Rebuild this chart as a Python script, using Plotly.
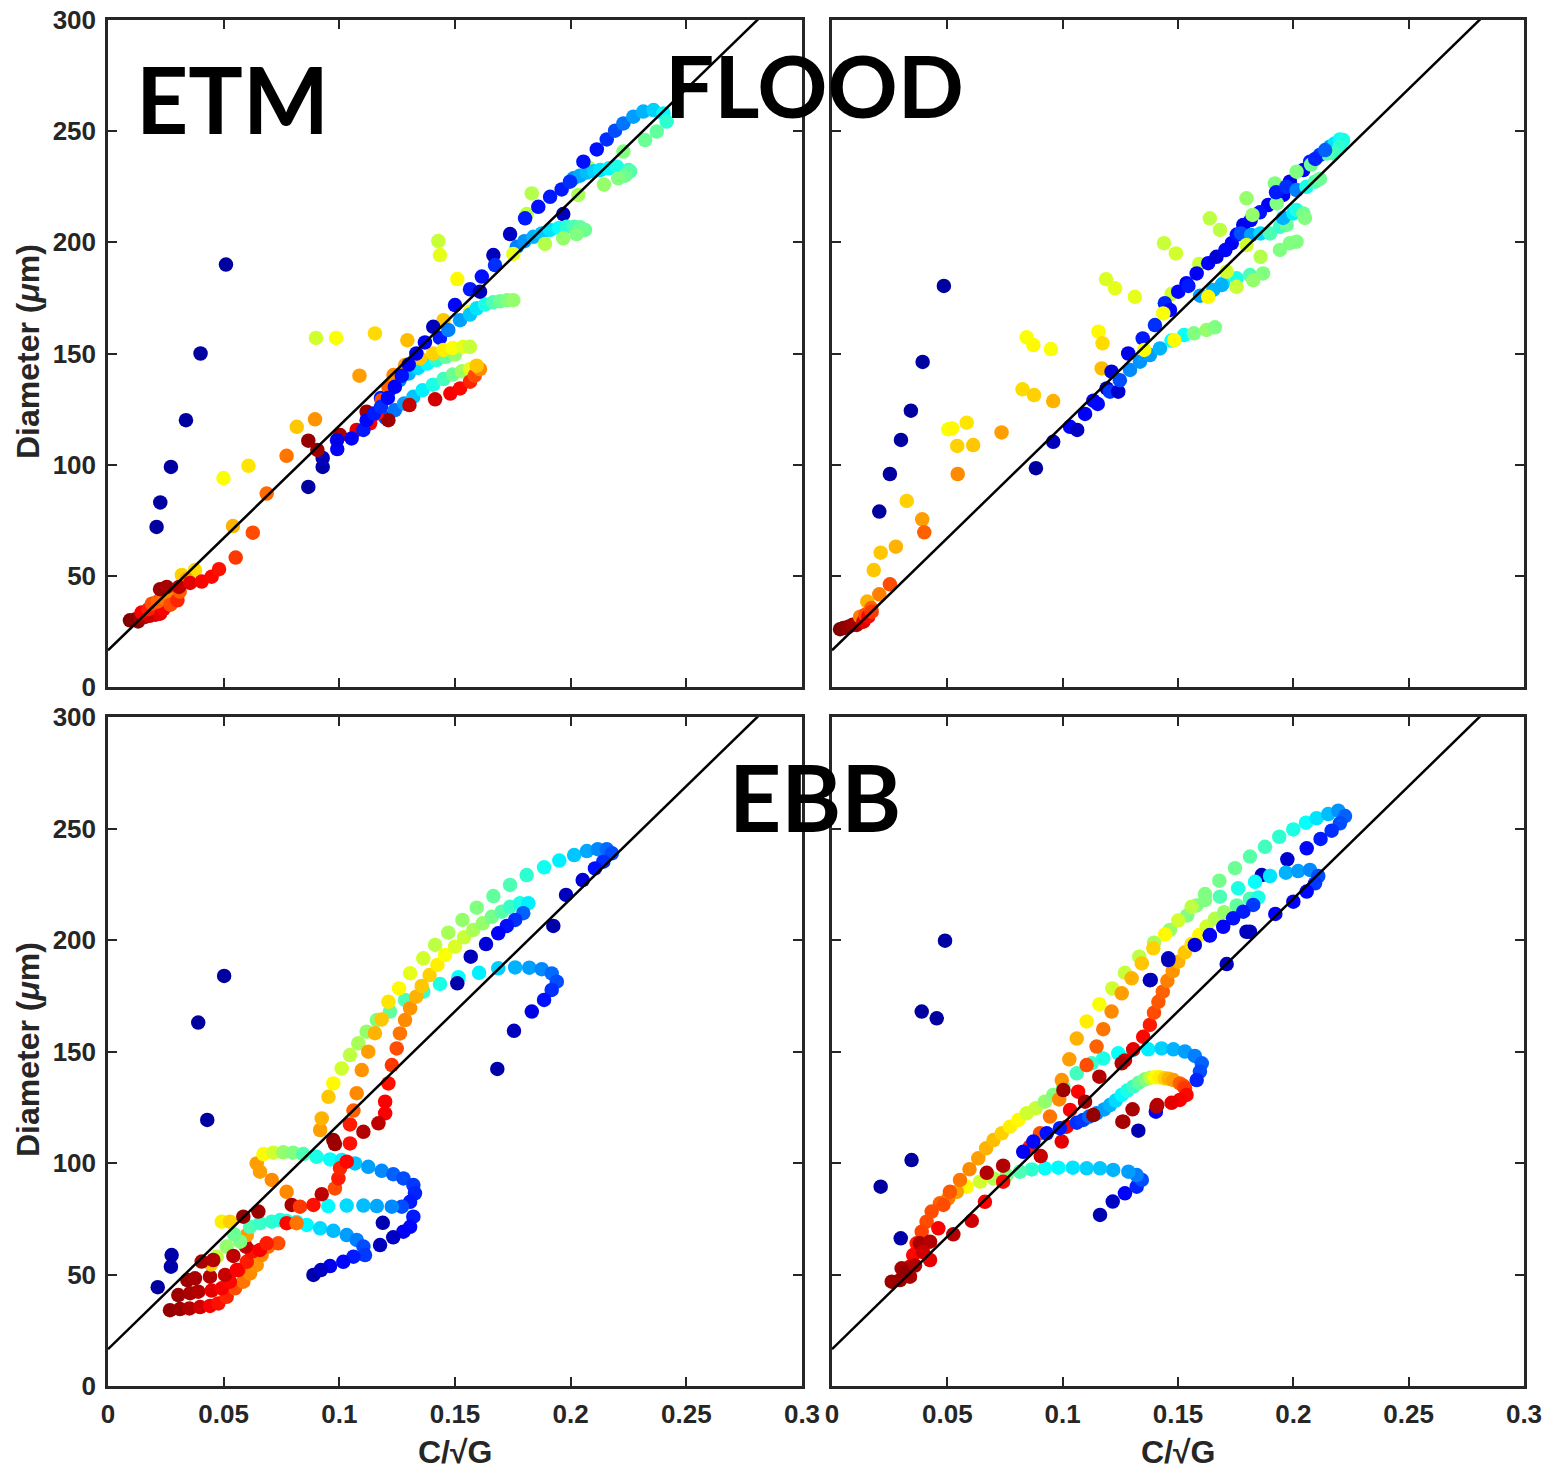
import plotly.graph_objects as go

# ---------------------------------------------------------------
# Floc diameter versus C/sqrt(G); each point is (C/sqrt(G), D [um], colour value 0..1)
# ---------------------------------------------------------------

# Fitted relation drawn in every panel: D = fit_intercept + fit_slope * C/sqrt(G)
fit_intercept = 16.5
fit_slope = 1010.0

x_ticks = [0, 0.05, 0.1, 0.15, 0.2, 0.25, 0.3]
x_tick_text = ["0", "0.05", "0.1", "0.15", "0.2", "0.25", "0.3"]
y_ticks = [0, 50, 100, 150, 200, 250, 300]
y_tick_text = ["0", "50", "100", "150", "200", "250", "300"]

panel_labels = ["ETM", "FLOOD", "EBB"]
x_title = "C/√G"
y_title = "Diameter (<i>μ</i>m)"

# ---------------- ETM (top left) ----------------
etm_scatter = [
    (0.021, 72, 0.02), (0.0226, 83, 0.02), (0.0272, 99, 0.02), (0.0337, 120, 0.02),
    (0.040, 150, 0.02), (0.051, 190, 0.02),
    (0.0499, 94, 0.62), (0.0607, 99.5, 0.65), (0.054, 72.4, 0.7), (0.0626, 69.4, 0.8),
    (0.0686, 87, 0.77), (0.0899, 157, 0.58), (0.0986, 157, 0.62), (0.1154, 159, 0.66),
    (0.1294, 156, 0.69), (0.1087, 140, 0.72), (0.0816, 117, 0.68), (0.0895, 120.4, 0.73),
    (0.0772, 104, 0.76), (0.1428, 200.6, 0.57), (0.1435, 194.3, 0.6), (0.151, 183.5, 0.63),
    (0.145, 165, 0.68), (0.1565, 168.8, 0.62), (0.1832, 222, 0.55), (0.181, 212.7, 0.56),
    (0.2033, 221.3, 0.54), (0.2077, 233.7, 0.55),
    (0.0866, 90, 0.02), (0.0928, 99, 0.03), (0.0928, 103, 0.05), (0.1968, 212.7, 0.05),
]
etm_low = [
    (0.0095, 30, 1.0), (0.012, 30.5, 0.98), (0.013, 29.5, 0.99), (0.014, 31, 0.97),
    (0.016, 31.5, 0.95), (0.018, 32, 0.93), (0.0205, 32.5, 0.92), (0.0225, 33, 0.9),
    (0.024, 35, 0.88), (0.0145, 33.5, 0.88), (0.0175, 35, 0.85), (0.019, 37.5, 0.8),
    (0.0215, 38.5, 0.78), (0.0245, 40, 0.76), (0.0275, 40.6, 0.74), (0.027, 37, 0.8),
    (0.03, 39, 0.84), (0.031, 42.9, 0.78), (0.0319, 50.4, 0.67), (0.0376, 52.6, 0.66),
    (0.034, 48.5, 0.72), (0.0225, 44, 0.97), (0.0254, 45, 0.96), (0.0307, 45, 0.94),
    (0.0355, 46.8, 0.9), (0.0405, 47.4, 0.88), (0.0448, 49.6, 0.87), (0.048, 53, 0.86),
    (0.0552, 58.2, 0.82),
]
etm_arcs = [
    (0.118, 130, 0.15), (0.122, 134, 0.2), (0.126, 138, 0.25), (0.13, 141, 0.3),
    (0.134, 143.5, 0.34), (0.138, 145.5, 0.37), (0.142, 147, 0.42), (0.146, 148.5, 0.47),
    (0.15, 149.5, 0.52),
    (0.12, 121, 0.2), (0.124, 124.5, 0.24), (0.128, 127.5, 0.28), (0.132, 130.5, 0.32),
    (0.136, 133.5, 0.36), (0.1405, 136, 0.4), (0.145, 138.5, 0.44), (0.149, 140.5, 0.48),
    (0.153, 142, 0.53), (0.1565, 143, 0.6),
    (0.1435, 157, 0.15), (0.1471, 160.6, 0.25), (0.1522, 165, 0.28), (0.1565, 167.5, 0.32),
    (0.1594, 170.3, 0.35), (0.163, 172, 0.4), (0.1665, 173, 0.45), (0.1695, 173.5, 0.48),
    (0.1725, 174, 0.5), (0.1752, 174, 0.52),
    (0.1767, 198, 0.25), (0.18, 200.5, 0.27), (0.1839, 202.5, 0.3), (0.1875, 204, 0.32),
    (0.1911, 205.6, 0.35), (0.195, 206.5, 0.38), (0.1983, 207, 0.42), (0.2015, 207, 0.45),
    (0.2041, 206.8, 0.47), (0.2062, 205.6, 0.48), (0.2026, 203.7, 0.5), (0.1968, 201.8, 0.52),
    (0.1889, 199.3, 0.55), (0.1752, 194.8, 0.6),
    (0.2012, 228.8, 0.27), (0.204, 230, 0.29), (0.207, 231.4, 0.31), (0.21, 232, 0.33),
    (0.2127, 232.5, 0.35), (0.2165, 233.3, 0.37), (0.22, 234, 0.4), (0.225, 232.5, 0.43),
    (0.2257, 231.9, 0.46), (0.2235, 230, 0.48), (0.2206, 228.8, 0.5), (0.2144, 226, 0.52),
]
etm_mid = [
    (0.0866, 110.8, 0.98), (0.0905, 106.6, 0.97), (0.1003, 113.3, 0.96), (0.1118, 123.8, 0.97),
    (0.1212, 120, 0.97), (0.1303, 126.8, 0.93),
    (0.1075, 115.6, 0.9), (0.1133, 118.6, 0.88), (0.1162, 123, 0.86), (0.1183, 129, 0.8),
    (0.1212, 135, 0.78), (0.1234, 140.3, 0.74), (0.1284, 144.8, 0.72), (0.1349, 147.8, 0.68),
    (0.1406, 150, 0.67), (0.145, 151.6, 0.64), (0.149, 152.5, 0.62), (0.1535, 153, 0.6),
    (0.1565, 153, 0.57),
    (0.1414, 129.4, 0.92), (0.148, 132, 0.88), (0.1522, 134.3, 0.87), (0.1565, 137.3, 0.84),
    (0.1585, 140, 0.8), (0.1608, 143, 0.74), (0.1594, 144.5, 0.68),
]
etm_blue = [
    (0.0991, 107, 0.12), (0.099, 111, 0.1), (0.1053, 111.8, 0.12), (0.1104, 115.6, 0.15),
    (0.1118, 120, 0.13), (0.115, 123, 0.15), (0.118, 126, 0.17), (0.121, 130, 0.13),
    (0.124, 135, 0.12), (0.127, 140, 0.14), (0.13, 145, 0.12), (0.1333, 150, 0.1),
    (0.137, 155, 0.12), (0.1406, 162, 0.05), (0.150, 171.8, 0.13), (0.1565, 178.9, 0.15),
    (0.1608, 177.8, 0.05), (0.1616, 184.6, 0.14), (0.1666, 194.3, 0.05), (0.1673, 189.8, 0.17),
    (0.1738, 203.7, 0.06), (0.1803, 210.8, 0.15), (0.186, 216, 0.14), (0.1911, 220.5, 0.15),
    (0.1961, 223.8, 0.15), (0.1997, 227.3, 0.17), (0.2055, 236.3, 0.14), (0.2113, 241.8, 0.14),
    (0.2156, 246.3, 0.17), (0.2192, 250.2, 0.2), (0.2228, 253.5, 0.24), (0.2271, 256.5, 0.28),
    (0.2314, 258.8, 0.3), (0.2358, 259.5, 0.33), (0.2401, 258, 0.37), (0.2415, 254.3, 0.42),
    (0.2372, 249.8, 0.47), (0.2322, 246, 0.48), (0.2228, 240.8, 0.5),
]

# ---------------- FLOOD (top right) ----------------
flood_scatter = [
    (0.0485, 180.4, 0.02), (0.0393, 146.2, 0.02), (0.0342, 124.3, 0.02), (0.0299, 111.1, 0.02),
    (0.0251, 95.8, 0.02), (0.0205, 78.9, 0.02), (0.0884, 98.4, 0.02),
    (0.0324, 83.7, 0.67), (0.0391, 75.4, 0.72), (0.04, 69.6, 0.78), (0.0277, 63.1, 0.7),
    (0.0211, 60.4, 0.68), (0.0181, 52.6, 0.68), (0.0251, 46.2, 0.8), (0.0205, 41.7, 0.75),
    (0.0153, 38.4, 0.7),
    (0.0504, 115.9, 0.62), (0.0521, 116.3, 0.63), (0.0584, 118.9, 0.65), (0.0543, 108.4, 0.67),
    (0.0612, 108.8, 0.68), (0.0545, 95.8, 0.74), (0.0735, 114.5, 0.72),
    (0.0844, 157.3, 0.62), (0.0873, 153.8, 0.63), (0.0949, 152, 0.62), (0.0826, 133.9, 0.66),
    (0.0876, 131.3, 0.67), (0.0959, 128.6, 0.7),
    (0.1155, 159.8, 0.63), (0.1173, 154.6, 0.66), (0.1169, 143.3, 0.69), (0.1188, 183.4, 0.59),
    (0.1227, 179.3, 0.6), (0.1313, 175.5, 0.6), (0.1472, 176.8, 0.58),
    (0.1439, 199.6, 0.57), (0.1491, 195, 0.58), (0.1592, 190.3, 0.57),
]
flood_low = [
    (0.0035, 26, 1.0), (0.005, 26.5, 0.99), (0.0071, 27.1, 0.98), (0.009, 28, 0.97),
    (0.0107, 27.9, 0.96), (0.0122, 31.6, 0.75), (0.0136, 29.4, 0.9), (0.0145, 32.5, 0.8),
    (0.0157, 31.6, 0.87), (0.017, 35.5, 0.78), (0.0172, 33.9, 0.82),
]
flood_blue = [
    (0.0959, 110.3, 0.05), (0.1032, 117, 0.12), (0.1063, 115.6, 0.06), (0.1097, 122.8, 0.12),
    (0.1133, 128.8, 0.12), (0.1152, 127.3, 0.13), (0.1191, 134.3, 0.06), (0.1212, 141.8, 0.08),
    (0.1205, 132.8, 0.18), (0.1241, 132.8, 0.07), (0.1248, 138, 0.2), (0.1284, 150, 0.1),
    (0.1292, 142.6, 0.26), (0.1335, 146.3, 0.27), (0.1347, 156.8, 0.15), (0.1378, 149.3, 0.28),
    (0.14, 162.8, 0.17), (0.1422, 152.3, 0.3), (0.1443, 172.6, 0.16), (0.1465, 169.6, 0.13),
    (0.1472, 155.8, 0.38), (0.1501, 177.8, 0.13), (0.1526, 158.3, 0.38), (0.1537, 181.6, 0.12),
    (0.1545, 180.4, 0.15), (0.1569, 159.1, 0.5), (0.1581, 186, 0.12), (0.1624, 160.6, 0.52),
    (0.1631, 190.6, 0.12), (0.166, 161.8, 0.5), (0.1667, 193.5, 0.08), (0.1733, 199.6, 0.12),
    (0.1783, 207.8, 0.1), (0.1891, 216.8, 0.12), (0.1956, 221.3, 0.12), (0.1985, 227.3, 0.1),
    (0.2043, 232.5, 0.12), (0.2073, 236.3, 0.15), (0.2115, 239.3, 0.18), (0.2159, 243, 0.28),
    (0.218, 244.5, 0.35), (0.2202, 246.3, 0.38), (0.2216, 246, 0.4), (0.2202, 243, 0.42),
    (0.2173, 240, 0.44), (0.2144, 240, 0.46), (0.2077, 235, 0.48), (0.2014, 231.8, 0.5),
    (0.192, 226.5, 0.5), (0.1928, 217.5, 0.5),
    (0.1705, 196.5, 0.13), (0.1755, 203.5, 0.14), (0.1815, 210, 0.12), (0.1855, 213.5, 0.14),
    (0.1925, 222.5, 0.15), (0.197, 225, 0.17), (0.2095, 237.5, 0.16), (0.2138, 241.5, 0.22),
]
flood_bands = [
    (0.1596, 176, 0.28), (0.1653, 178.6, 0.3), (0.1696, 181.6, 0.36), (0.1754, 183.8, 0.4),
    (0.1812, 185.3, 0.45), (0.1869, 186, 0.5), (0.1754, 180, 0.57), (0.1826, 183, 0.52),
    (0.1773, 204, 0.2), (0.1817, 203.3, 0.28), (0.1858, 204, 0.34), (0.1899, 204, 0.45),
    (0.1942, 207, 0.43), (0.1971, 207.8, 0.48), (0.1985, 199.6, 0.5), (0.2014, 200.3, 0.5),
    (0.1942, 196.6, 0.5),
    (0.1956, 211, 0.3), (0.2, 213, 0.36), (0.2014, 214.5, 0.4), (0.2043, 213, 0.48),
    (0.205, 211, 0.5),
    (0.2014, 223.5, 0.25), (0.2057, 225, 0.4), (0.2094, 227.3, 0.45), (0.2115, 228.5, 0.48),
    (0.1354, 151.6, 0.62), (0.1436, 168, 0.62), (0.1484, 156, 0.63), (0.1631, 175.5, 0.63),
    (0.1689, 180.8, 0.3), (0.1711, 186.8, 0.58), (0.1797, 198.8, 0.58), (0.1638, 210.8, 0.56),
    (0.1682, 205.6, 0.56), (0.1797, 219.8, 0.52), (0.1823, 212.3, 0.52), (0.1858, 193.5, 0.55),
]

# ---------------- EBB, left (bottom left) ----------------
ebb_l_scatter = [
    (0.0502, 183.9, 0.02), (0.039, 163, 0.02), (0.0429, 119.3, 0.02), (0.0275, 58.7, 0.03),
    (0.0272, 53.5, 0.03), (0.0215, 44.3, 0.02), (0.0888, 49.8, 0.03), (0.1188, 73.2, 0.04),
    (0.1176, 63.2, 0.05),
]
ebb_l_low = [
    (0.0268, 34, 0.98), (0.0311, 34.5, 0.97), (0.0352, 34.8, 0.95), (0.0398, 35.4, 0.92),
    (0.0441, 35.9, 0.88), (0.0477, 37, 0.86), (0.0513, 40, 0.84), (0.0549, 43.8, 0.8),
    (0.0585, 46.8, 0.76), (0.0614, 50.5, 0.74), (0.0643, 54.3, 0.73), (0.0664, 58.7, 0.74),
    (0.0693, 62.5, 0.77), (0.0736, 64, 0.8),
    (0.0304, 40.8, 0.97), (0.0355, 41.6, 0.96), (0.039, 42.3, 0.95), (0.0448, 42.8, 0.9),
    (0.0492, 43.8, 0.88), (0.0527, 46.8, 0.87), (0.0563, 52, 0.86), (0.06, 55.7, 0.85),
    (0.0621, 60.2, 0.86), (0.0657, 61, 0.88), (0.0686, 64, 0.85),
    (0.0343, 47.5, 0.97), (0.0376, 48.3, 0.96), (0.0441, 49, 0.95), (0.0506, 49.8, 0.93),
    (0.0556, 52, 0.88), (0.0596, 62.5, 0.93),
    (0.0492, 73.7, 0.64), (0.0527, 73.7, 0.67), (0.06, 67.7, 0.72), (0.0571, 64.7, 0.5),
    (0.0614, 71.4, 0.45), (0.0657, 73, 0.43), (0.0708, 73.7, 0.42), (0.0744, 74.4, 0.41),
    (0.0513, 62.5, 0.52), (0.047, 58, 0.56), (0.0445, 54.5, 0.68), (0.0545, 68, 0.48),
    (0.0405, 55.8, 0.96), (0.0455, 56.5, 0.95), (0.0542, 58.3, 0.94), (0.0585, 75.9, 0.98),
    (0.065, 78.2, 0.97),
]
ebb_l_loops = [
    (0.0772, 74, 0.4), (0.0815, 73.5, 0.38), (0.0859, 72.2, 0.37), (0.0917, 70.7, 0.34),
    (0.0974, 69.6, 0.31), (0.1032, 67.7, 0.28), (0.1075, 65.5, 0.25), (0.1104, 62.5, 0.2),
    (0.1111, 58.7, 0.18), (0.1061, 58, 0.15), (0.1017, 55.7, 0.13), (0.096, 53.8, 0.1),
    (0.092, 52, 0.06),
    (0.0643, 99.8, 0.72), (0.0672, 104, 0.63), (0.0715, 104.6, 0.58), (0.0758, 104.8, 0.52),
    (0.08, 104.6, 0.5), (0.0844, 104, 0.45), (0.0902, 102.8, 0.4), (0.096, 101.6, 0.38),
    (0.101, 101.3, 0.36), (0.1068, 99.8, 0.32), (0.1125, 98.3, 0.28), (0.1183, 96.5, 0.26),
    (0.1233, 95, 0.22), (0.1277, 93.1, 0.2), (0.132, 90.1, 0.18), (0.1327, 86.4, 0.16),
    (0.1306, 82.6, 0.15), (0.127, 80.4, 0.2), (0.1227, 80.4, 0.26), (0.1162, 80.7, 0.29),
    (0.1104, 80.9, 0.31), (0.1032, 80.9, 0.34), (0.0952, 80.7, 0.37),
    (0.0657, 96.1, 0.72), (0.0708, 92.4, 0.74),
    (0.132, 75.9, 0.15), (0.1306, 71.4, 0.13), (0.1277, 69.2, 0.12), (0.1233, 66.7, 0.06),
]
ebb_l_mid = [
    (0.0772, 87.1, 0.74), (0.0794, 81.2, 0.96), (0.083, 80.4, 0.82), (0.0772, 73, 0.87),
    (0.0815, 73, 0.76), (0.0888, 81.2, 0.86), (0.0924, 86, 0.94), (0.0981, 88.6, 0.8),
    (0.0996, 93.1, 0.85), (0.1003, 97.6, 0.84), (0.1032, 100.6, 0.87), (0.1046, 108.8, 0.86),
    (0.0974, 110.3, 0.98), (0.0981, 108.5, 0.97), (0.1104, 114, 0.95), (0.1046, 117.3, 0.85),
    (0.1061, 123.5, 0.78),
]
ebb_l_arcs = [
    # outer arc ending in the cyan hook
    (0.0917, 114.8, 0.72), (0.0924, 120, 0.7), (0.0953, 129.7, 0.68), (0.0974, 135.7, 0.63),
    (0.101, 142.4, 0.58), (0.1046, 148.4, 0.56), (0.1082, 153.7, 0.54), (0.1118, 158.9, 0.52),
    (0.1162, 164.1, 0.5), (0.1219, 167.9, 0.47), (0.1284, 173.1, 0.45), (0.1363, 176.8, 0.43),
    (0.1435, 180.3, 0.4), (0.1515, 183.3, 0.38), (0.1604, 185.3, 0.36), (0.1687, 187.3, 0.33),
    (0.176, 187.7, 0.3), (0.1821, 187.6, 0.28), (0.1875, 186.9, 0.26), (0.1918, 185, 0.23),
    (0.194, 181.3, 0.2), (0.1918, 177.6, 0.17), (0.1885, 173.1, 0.14), (0.1832, 167.9, 0.1),
    (0.1755, 159.3, 0.05), (0.1683, 142.2, 0.03),
    # long arc to the top
    (0.1075, 131.3, 0.74), (0.1097, 141.7, 0.73), (0.1125, 149.9, 0.72), (0.1154, 158.2, 0.7),
    (0.1183, 164.4, 0.68), (0.1212, 172.3, 0.65), (0.1258, 178.3, 0.63), (0.1306, 185.1, 0.6),
    (0.1363, 191.8, 0.58), (0.1414, 197.8, 0.56), (0.1471, 203.3, 0.54), (0.1532, 209, 0.52),
    (0.1594, 214.5, 0.5), (0.1666, 219.7, 0.47), (0.1738, 224.7, 0.45), (0.181, 229.1, 0.42),
    (0.1885, 232.6, 0.39), (0.1951, 235.6, 0.36), (0.2015, 238.1, 0.32), (0.207, 239.9, 0.29),
    (0.2117, 240.7, 0.26), (0.2156, 240.7, 0.23), (0.2178, 238.9, 0.2), (0.2141, 235.1, 0.17),
    (0.2105, 232.1, 0.14), (0.2052, 226.9, 0.08), (0.198, 220.2, 0.05), (0.1925, 206.3, 0.03),
    # inner arc
    (0.1198, 122.3, 0.88), (0.1198, 127.5, 0.88), (0.1212, 135.7, 0.86), (0.1227, 143.9, 0.82),
    (0.1248, 151.4, 0.8), (0.1262, 158.1, 0.76), (0.1284, 164.1, 0.74), (0.1306, 169.3, 0.73),
    (0.1332, 174.6, 0.7), (0.1356, 179.4, 0.68), (0.139, 184.3, 0.67), (0.1424, 188.8, 0.64),
    (0.1457, 193.3, 0.62), (0.15, 197, 0.59), (0.1539, 201.2, 0.57), (0.1579, 204.5, 0.54),
    (0.162, 207.5, 0.52), (0.1659, 210.4, 0.49), (0.1702, 212.7, 0.46), (0.1738, 214.9, 0.43),
    (0.1781, 216.5, 0.4), (0.1817, 216.5, 0.36), (0.1795, 212, 0.22), (0.176, 209, 0.17),
    (0.1724, 206.3, 0.14), (0.1687, 203, 0.12), (0.1634, 198.2, 0.08), (0.1568, 192.5, 0.05),
    (0.151, 180.6, 0.03), (0.1169, 117.8, 0.94),
]

# ---------------- EBB, right (bottom right) ----------------
ebb_r_scatter = [
    (0.049, 199.7, 0.02), (0.0389, 167.9, 0.02), (0.0454, 164.9, 0.02), (0.0345, 101.3, 0.02),
    (0.0211, 89.4, 0.02), (0.0298, 66.2, 0.03), (0.1162, 76.7, 0.04), (0.1217, 82.7, 0.06),
    (0.1328, 114.5, 0.04), (0.1404, 123, 0.12),
]
ebb_r_low = [
    (0.127, 86.4, 0.12), (0.1321, 89.4, 0.16), (0.1343, 92.4, 0.2), (0.1321, 94.6, 0.25),
    (0.1285, 96.1, 0.28), (0.1219, 96.9, 0.3), (0.1162, 97.6, 0.32), (0.1104, 97.6, 0.33),
    (0.1044, 97.9, 0.35), (0.0981, 97.9, 0.37), (0.0923, 97.6, 0.38), (0.0866, 97.1, 0.42),
    (0.0815, 96.1, 0.45), (0.0757, 94.6, 0.5), (0.07, 93.1, 0.55), (0.0642, 91.6, 0.58),
    (0.0584, 89.4, 0.63), (0.0541, 87.1, 0.72), (0.0504, 84.1, 0.75), (0.0468, 81.9, 0.78),
    (0.0432, 78.2, 0.8), (0.041, 73.7, 0.8), (0.0389, 69.2, 0.81), (0.0367, 64, 0.85),
    (0.0352, 58.7, 0.87), (0.0338, 53.5, 0.92),
    (0.0302, 52.8, 0.96), (0.0259, 46.8, 0.97), (0.0295, 47.5, 0.97), (0.0338, 49, 0.96),
    (0.0381, 64, 0.96), (0.0425, 64.7, 0.95), (0.0461, 70.7, 0.88), (0.0425, 56.5, 0.9),
    (0.0315, 51, 0.98), (0.036, 54, 0.95), (0.0395, 60, 0.92),
]
ebb_r_arcs = [
    # arc through the 150 loop
    (0.0483, 81.2, 0.8), (0.0511, 87.1, 0.79), (0.0555, 92.4, 0.76), (0.0596, 97.2, 0.74),
    (0.0634, 102.1, 0.72), (0.0668, 106.6, 0.7), (0.07, 110.3, 0.69), (0.0736, 113.3, 0.67),
    (0.0772, 116.3, 0.64), (0.0808, 119.3, 0.63), (0.0844, 122.3, 0.58), (0.0883, 124.5, 0.57),
    (0.0923, 127.5, 0.52), (0.0959, 130.5, 0.5), (0.1003, 134.2, 0.46), (0.1061, 140.2, 0.44),
    (0.1126, 144.7, 0.43), (0.1176, 146.9, 0.4), (0.1241, 149.2, 0.38), (0.1306, 150.7, 0.37),
    (0.1371, 151, 0.36), (0.1429, 151.4, 0.33), (0.148, 151, 0.3), (0.153, 150, 0.28),
    (0.1573, 148, 0.25), (0.1603, 144.7, 0.22), (0.1595, 141, 0.2), (0.1581, 137.2, 0.16),
    # outer arc to the top
    (0.0858, 107.3, 0.85), (0.0902, 113.3, 0.8), (0.0945, 120.8, 0.76), (0.0985, 128.5, 0.74),
    (0.0996, 137.2, 0.73), (0.1029, 146.5, 0.72), (0.1061, 155.8, 0.7), (0.1104, 163.5, 0.64),
    (0.1159, 171.2, 0.62), (0.1215, 178.3, 0.58), (0.127, 185.3, 0.57), (0.1332, 192.5, 0.56),
    (0.1396, 198.8, 0.54), (0.1465, 204.5, 0.52), (0.154, 211, 0.5), (0.158, 215.5, 0.5),
    (0.1617, 220.6, 0.5), (0.1679, 226.6, 0.49), (0.1747, 232.2, 0.48), (0.1812, 237.4, 0.46),
    (0.1877, 241.8, 0.44), (0.1939, 246.3, 0.42), (0.2, 249.6, 0.4), (0.2055, 252.6, 0.38),
    (0.2101, 254.6, 0.35), (0.2151, 256.5, 0.31), (0.2195, 258, 0.27), (0.2224, 255.6, 0.22),
    (0.2202, 252.3, 0.2), (0.2166, 249, 0.17), (0.2118, 245.3, 0.15), (0.2058, 241.1, 0.13),
    (0.1974, 236.2, 0.07), (0.1863, 229.1, 0.05),
    # second arc
    (0.0996, 109.6, 0.9), (0.1017, 116.3, 0.88), (0.1032, 123.8, 0.88), (0.1067, 132, 0.87),
    (0.1104, 143.9, 0.8), (0.1147, 152.2, 0.78), (0.1176, 160, 0.76), (0.1212, 167.9, 0.74),
    (0.1256, 176.1, 0.72), (0.1299, 182.8, 0.7), (0.1343, 189.5, 0.68), (0.1393, 196.3, 0.67),
    (0.1444, 202.5, 0.63), (0.1501, 208.7, 0.58), (0.1559, 214.9, 0.56), (0.1617, 217.9, 0.5),
    (0.1682, 219.4, 0.45), (0.1761, 223.2, 0.4), (0.1834, 226.1, 0.38), (0.1899, 228.7, 0.35),
    (0.1968, 230.2, 0.3), (0.2021, 230.9, 0.28), (0.2072, 231.4, 0.26), (0.2108, 228.7, 0.2),
    (0.2094, 225.4, 0.18), (0.2058, 221.7, 0.13), (0.2, 217.2, 0.12), (0.1922, 211.7, 0.12),
    (0.1812, 203.7, 0.06), (0.1711, 189.2, 0.05),
    # inner arc
    (0.127, 146, 0.92), (0.1306, 151, 0.9), (0.1349, 156.6, 0.87), (0.1378, 161.9, 0.85),
    (0.1396, 167.4, 0.8), (0.1415, 172.3, 0.79), (0.1434, 176.8, 0.78), (0.1454, 181.7, 0.75),
    (0.1477, 186.1, 0.73), (0.1501, 190.3, 0.7), (0.153, 194.5, 0.68), (0.1559, 198.2, 0.65),
    (0.1592, 202.2, 0.63), (0.1624, 206, 0.58), (0.166, 209.5, 0.55), (0.17, 212.5, 0.52),
    (0.1755, 215.5, 0.47), (0.1812, 218.5, 0.45), (0.1848, 219.1, 0.4), (0.1826, 215.7, 0.18),
    (0.1783, 212.7, 0.15), (0.1739, 209.7, 0.14), (0.1696, 205.9, 0.12), (0.1638, 202.2, 0.12),
    (0.1573, 197.8, 0.08), (0.1458, 191.8, 0.07), (0.1382, 182.1, 0.05),
]
ebb_r_mid = [
    (0.0829, 105, 0.12), (0.0873, 109.6, 0.13), (0.0931, 113.3, 0.14), (0.0988, 115.6, 0.15),
    (0.1061, 118.1, 0.17), (0.1089, 119.3, 0.18), (0.1115, 120.8, 0.22), (0.1147, 122.3, 0.25),
    (0.118, 124, 0.28), (0.1205, 126, 0.3), (0.123, 128, 0.34), (0.1256, 130.5, 0.37),
    (0.128, 132.5, 0.4), (0.1306, 134.2, 0.43), (0.133, 136, 0.47), (0.1357, 137.5, 0.5),
    (0.138, 138.2, 0.56), (0.14, 138.4, 0.62), (0.142, 138.4, 0.64), (0.1443, 138, 0.67),
    (0.146, 137.8, 0.7), (0.148, 137.2, 0.72), (0.1508, 135.7, 0.78), (0.1525, 134.5, 0.8),
    (0.153, 133.5, 0.82), (0.1537, 130.5, 0.87), (0.1508, 128.3, 0.88), (0.1472, 127, 0.9),
    (0.141, 126, 0.93), (0.1303, 124.1, 0.96), (0.1259, 118.5, 0.98), (0.1133, 121.5, 0.98),
    (0.1003, 132.7, 0.97), (0.1097, 127.5, 0.96), (0.0905, 103.1, 0.93), (0.0742, 91.6, 0.87),
    (0.0671, 95.6, 0.95), (0.0742, 98.8, 0.95), (0.0663, 82.6, 0.88), (0.0606, 74.1, 0.92),
    (0.0526, 68, 0.95), (0.1159, 138.7, 0.95), (0.1263, 118.5, 0.96), (0.1407, 125.3, 0.95),
    (0.1256, 144.7, 0.95), (0.1458, 191, 0.05), (0.1378, 182, 0.05), (0.1638, 202, 0.12),
    (0.1797, 203.7, 0.05),
]

panels = [
    etm_scatter + etm_low + etm_arcs + etm_mid + etm_blue,
    flood_scatter + flood_low + flood_blue + flood_bands,
    ebb_l_scatter + ebb_l_low + ebb_l_loops + ebb_l_mid + ebb_l_arcs,
    ebb_r_scatter + ebb_r_low + ebb_r_arcs + ebb_r_mid,
]

# MATLAB-style jet colormap
jet = [
    [0.0, "rgb(0,0,143)"], [0.125, "rgb(0,0,255)"], [0.375, "rgb(0,255,255)"],
    [0.625, "rgb(255,255,0)"], [0.875, "rgb(255,0,0)"], [1.0, "rgb(128,0,0)"],
]

W, H = 1546, 1471
left_x = [108 / W, 802 / W]
right_x = [832 / W, 1524 / W]
top_y = [1 - 687 / H, 1 - 20 / H]
bot_y = [1 - 1386 / H, 1 - 717 / H]
domains = [(left_x, top_y), (right_x, top_y), (left_x, bot_y), (right_x, bot_y)]

axis_color = "#262626"
tick_font = dict(family="Liberation Sans, Arial, sans-serif", size=26,
                 color=axis_color, weight="bold")

fig = go.Figure()
fit_x = [x_ticks[0], x_ticks[-1]]
fit_y = [fit_intercept + fit_slope * v for v in fit_x]

for i, pts in enumerate(panels):
    n = "" if i == 0 else str(i + 1)
    fig.add_trace(go.Scatter(
        x=[p[0] for p in pts], y=[p[1] for p in pts], mode="markers",
        marker=dict(size=14.5, color=[p[2] for p in pts], colorscale=jet,
                    cmin=0, cmax=1, line=dict(width=0)),
        xaxis="x" + n, yaxis="y" + n, showlegend=False, hoverinfo="skip",
    ))
    fig.add_trace(go.Scatter(
        x=fit_x, y=fit_y, mode="lines", line=dict(color="black", width=2.5),
        xaxis="x" + n, yaxis="y" + n, showlegend=False, hoverinfo="skip",
    ))

for i, (dx, dy) in enumerate(domains):
    n = "" if i == 0 else str(i + 1)
    show_x = i >= 2
    show_y = i in (0, 2)
    fig.update_layout({
        "xaxis" + n: dict(
            domain=dx, range=[0, 0.3], anchor="y" + n, tickvals=x_ticks,
            ticktext=x_tick_text, showticklabels=show_x, ticks="inside", ticklen=9,
            tickwidth=2, tickcolor=axis_color, showline=True, mirror="ticks",
            linecolor=axis_color, linewidth=2.5, showgrid=False, zeroline=False,
            tickfont=tick_font, ticklabelstandoff=3, automargin=False,
        ),
        "yaxis" + n: dict(
            domain=dy, range=[0, 300], anchor="x" + n, tickvals=y_ticks,
            ticktext=y_tick_text, showticklabels=show_y, ticks="inside", ticklen=9,
            tickwidth=2, tickcolor=axis_color, showline=True, mirror="ticks",
            linecolor=axis_color, linewidth=2.5, showgrid=False, zeroline=False,
            tickfont=tick_font, ticklabelstandoff=4, automargin=False,
        ),
    })

title_font = dict(family="Liberation Sans, Arial, sans-serif", size=32,
                  color=axis_color, weight="bold")
label_font = dict(family="Lato, Open Sans, sans-serif", size=91, color="black",
                  weight="bold")
flood_font = dict(label_font, size=87)

annotations = [
    dict(text=y_title, x=28 / W, y=1 - 352 / H, textangle=-90, font=title_font),
    dict(text=y_title, x=28 / W, y=1 - 1050 / H, textangle=-90, font=title_font),
    dict(text=x_title, x=455 / W, y=1 - 1452 / H, font=title_font),
    dict(text=x_title, x=1178 / W, y=1 - 1452 / H, font=title_font),
    dict(text=panel_labels[0], x=232 / W, y=1 - 98 / H, font=label_font),
    dict(text=panel_labels[1], x=814 / W, y=1 - 84 / H, font=flood_font),
    dict(text=panel_labels[2], x=815 / W, y=1 - 797 / H, font=label_font),
]
for a in annotations:
    a.update(xref="paper", yref="paper", xanchor="center", yanchor="middle",
             showarrow=False)

fig.update_layout(
    width=W, height=H, margin=dict(l=0, r=0, t=0, b=0),
    paper_bgcolor="white", plot_bgcolor="white", annotations=annotations,
)

fig.write_html("out.html")
